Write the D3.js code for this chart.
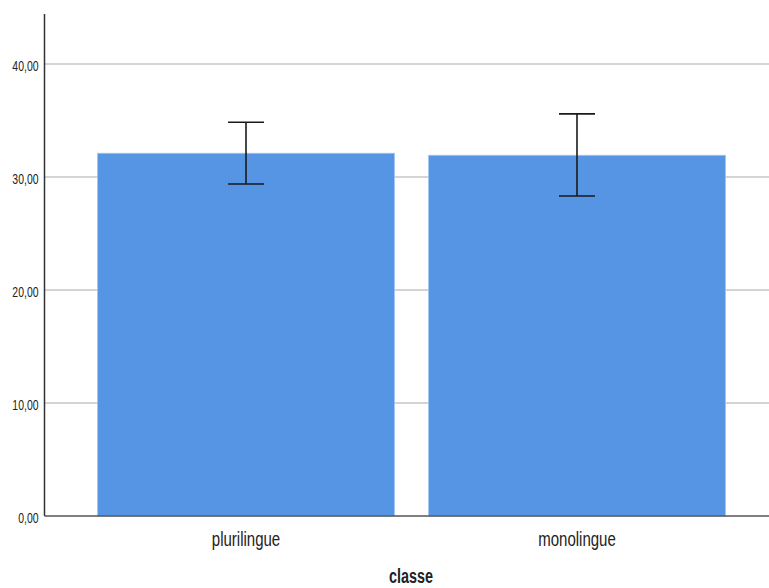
<!DOCTYPE html>
<html>
<head>
<meta charset="utf-8">
<script src="https://cdn.jsdelivr.net/npm/d3@7"></script>
<style>
  body { margin: 0; background: #fff; overflow: hidden; }
  svg text { font-family: "Liberation Sans", Arial, sans-serif; fill: #222; }
</style>
</head>
<body>
<div id="chart"></div>
<script>
// data
const categories = ['plurilingue', 'monolingue'];
const means = [32.10, 31.92];
const errLow = [29.38, 28.32];
const errHigh = [34.84, 35.58];
const yTicks = [0, 10, 20, 30, 40];
const xTitle = 'classe';

const W = 769, H = 588;
const svg = d3.select('#chart').append('svg')
    .attr('width', W).attr('height', H);

const frLocale = d3.formatLocale({decimal: ',', thousands: '.', grouping: [3], currency: ['', '€']});
const fmt = frLocale.format('.2f');

// squeeze text horizontally, arial narrow look
function narrow(sel, k) {
    sel.each(function() {
        const w = this.getComputedTextLength();
        d3.select(this).attr('textLength', w * k).attr('lengthAdjust', 'spacingAndGlyphs');
    });
}

const y = d3.scaleLinear().domain([0, 44.42]).range([516, 14]);
const x = d3.scaleBand().domain(categories)
    .range([80.5, 742.5])
    .paddingInner(0.1027)
    .paddingOuter(0.0514);

// gridlines
svg.append('g').selectAll('line')
    .data(yTicks.filter(d => d > 0))
    .join('line')
    .attr('x1', 44.5).attr('x2', W)
    .attr('y1', d => y(d)).attr('y2', d => y(d))
    .attr('stroke', '#c6c6c6').attr('stroke-width', 1.5);

// bars
svg.append('g').selectAll('rect')
    .data(categories)
    .join('rect')
    .attr('x', d => x(d))
    .attr('width', x.bandwidth())
    .attr('y', (d, i) => y(means[i]))
    .attr('height', (d, i) => y(0) - y(means[i]))
    .attr('fill', '#5694e4')
    .attr('stroke', '#a4c5ef').attr('stroke-width', 0.8);

// error bars
const eb = svg.append('g').attr('stroke', '#1a1a1a').attr('stroke-width', 1.6);
categories.forEach((c, i) => {
    const cx = x(c) + x.bandwidth() / 2;
    eb.append('line').attr('x1', cx).attr('x2', cx)
        .attr('y1', y(errHigh[i])).attr('y2', y(errLow[i]));
    [errHigh[i], errLow[i]].forEach(v => {
        eb.append('line').attr('x1', cx - 18).attr('x2', cx + 18)
            .attr('y1', y(v)).attr('y2', y(v));
    });
});

// y axis
const yAxis = svg.append('g').attr('transform', 'translate(44.5,1.5)')
    .call(d3.axisLeft(y).tickValues(yTicks).tickFormat(fmt).tickSize(0).tickPadding(6));
yAxis.select('.domain').remove();
yAxis.selectAll('text').style('font-size', '14.5px').attr('fill', '#222').call(narrow, 0.72);
svg.append('line')
    .attr('x1', 44.5).attr('x2', 44.5).attr('y1', 14).attr('y2', 516)
    .attr('stroke', '#333').attr('stroke-width', 1.5);

// x axis
const xAxis = svg.append('g').attr('transform', 'translate(0,516)')
    .call(d3.axisBottom(x).tickSize(0).tickPadding(15.8));
xAxis.select('.domain').remove();
xAxis.selectAll('text').style('font-size', '20px').attr('fill', '#222').call(narrow, 0.75);
svg.append('line')
    .attr('x1', 44.5).attr('x2', W).attr('y1', 516).attr('y2', 516)
    .attr('stroke', '#555').attr('stroke-width', 1.5);

// x title, reference crops it at the bottom edge; keep it just inside
svg.append('text')
    .attr('x', 411).attr('y', 583)
    .attr('text-anchor', 'middle')
    .style('font-size', '20px').style('font-weight', 'bold')
    .text(xTitle)
    .call(narrow, 0.72);
</script>
</body>
</html>
